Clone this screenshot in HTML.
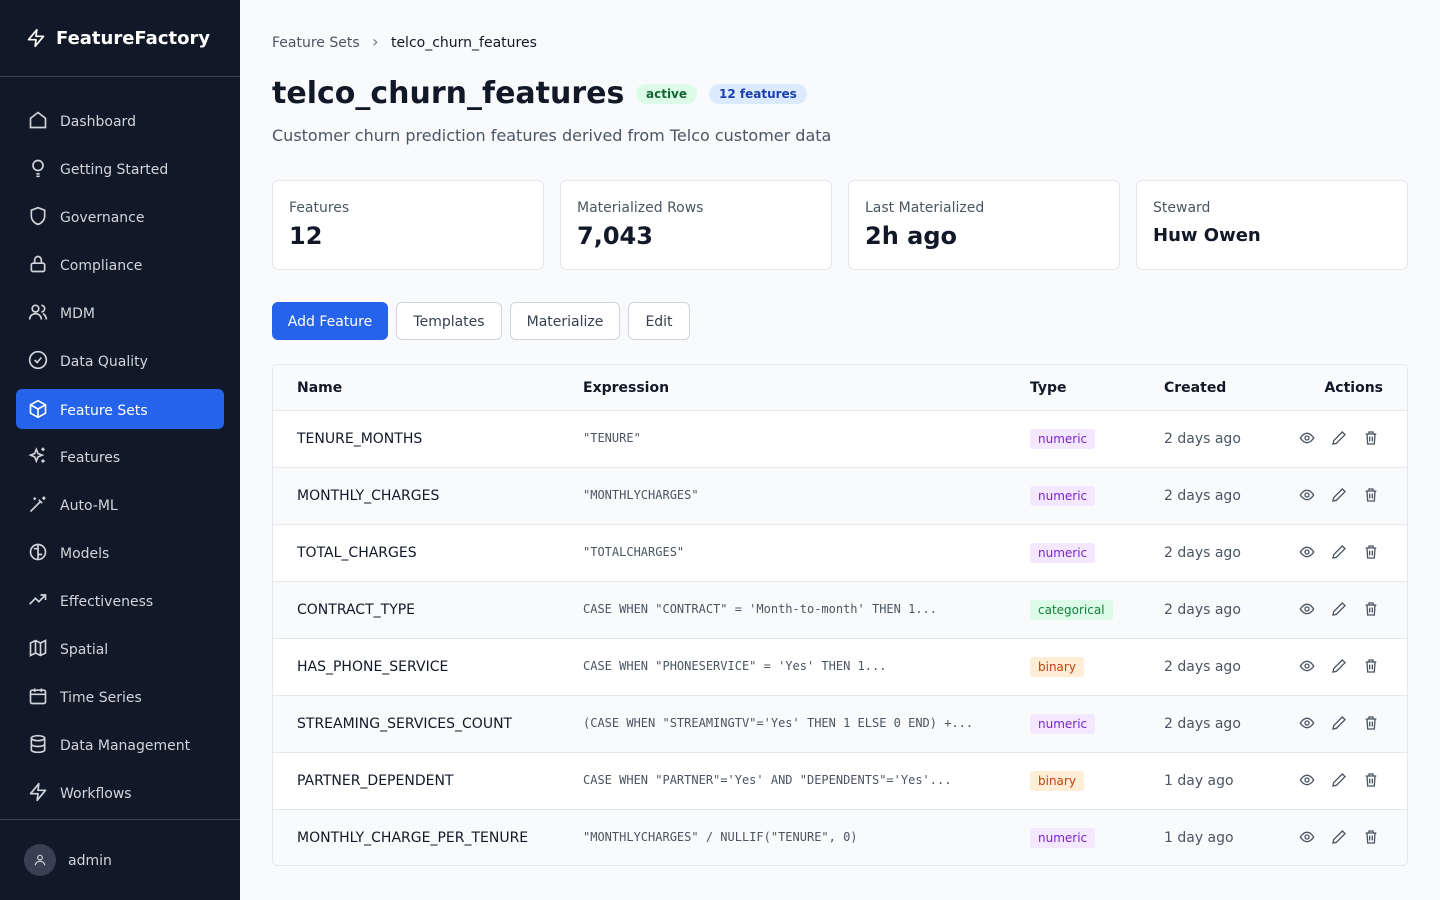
<!DOCTYPE html>
<html><head><meta charset="utf-8"><style>
*{box-sizing:border-box;margin:0;padding:0}
body{width:1440px;height:900px;overflow:hidden;background:#f8fafc;font-family:"DejaVu Sans","Liberation Sans",sans-serif;color:#111827;position:relative}
.sb{position:absolute;left:0;top:0;width:240px;height:900px;background:#111827}
.logo{height:77px;border-bottom:1px solid #374151;display:flex;align-items:center;padding-left:26px;color:#fff;font-weight:bold;font-size:18px}
.logo svg{margin-right:10px}
.nav{position:absolute;left:16px;width:208px;height:40px;border-radius:6px;display:flex;align-items:center;padding-left:12px;padding-top:3px;color:#d1d5db;font-size:14px}
.nav svg{margin-right:12px;margin-top:-3px}
.nav.act{background:#2563eb;color:#fff}
.foot{position:absolute;left:0;top:819px;width:240px;border-top:1px solid #374151;height:81px}
.av{position:absolute;left:24px;top:24px;width:32px;height:32px;border-radius:50%;background:#374151;display:flex;align-items:center;justify-content:center}
.card{position:absolute;top:180px;width:272px;height:90px;background:#fff;border:1px solid #e5e7eb;border-radius:6px;padding:19px 16px}
.card .l{font-size:14px;color:#4b5563}
.card .v{font-size:24px;font-weight:bold;margin-top:6px}
.btn{position:absolute;top:302px;height:38px;border:1px solid #d1d5db;background:#fff;border-radius:6px;font-size:14px;display:flex;align-items:center;justify-content:center;color:#374151;padding-top:2px}
.tbl{position:absolute;left:272px;top:364px;width:1136px;height:502px;background:#fff;border:1px solid #e5e7eb;border-radius:6px;overflow:hidden}
.row{position:absolute;left:0;width:1136px;height:57px;border-top:1px solid #e5e7eb;font-size:14px}
.row>*{position:absolute;top:50%;transform:translateY(-50%)}
.alt{background:#f9fafb}
.mono{font-family:"DejaVu Sans Mono","Liberation Mono",monospace;font-size:12px;color:#4b5563;margin-top:-1px}
.b{font-size:12px;padding:3px 8px;border-radius:3px}
.num{background:#f3e8ff;color:#7e22ce}.cat{background:#dcfce7;color:#15803d}.bin{background:#ffedd5;color:#c2410c}
.cr{color:#4b5563}
</style></head><body>
<div class="sb">
<div class="logo"><svg width="20" height="22" viewBox="0 0 24 24" fill="none" stroke="#fff" stroke-width="2" stroke-linejoin="round"><path d="M13 2L3 14h9l-1 8 10-12h-9l1-8z"/></svg>FeatureFactory</div>
<div class="nav" style="top:100px"><svg width="20" height="20" viewBox="0 0 24 24" fill="none" stroke="#d1d5db" stroke-width="2"><path d="M3 10l9-7 9 7v11H3z"/></svg>Dashboard</div>
<div class="nav" style="top:148px"><svg width="20" height="20" viewBox="0 0 24 24" fill="none" stroke="#d1d5db" stroke-width="2"><circle cx="12" cy="9" r="6"/><path d="M10 19h4M10 22h4"/></svg>Getting Started</div>
<div class="nav" style="top:196px"><svg width="20" height="20" viewBox="0 0 24 24" fill="none" stroke="#d1d5db" stroke-width="2"><path d="M12 2l8 3v7c0 5-4 9-8 10-4-1-8-5-8-10V5z"/></svg>Governance</div>
<div class="nav" style="top:244px"><svg width="20" height="20" viewBox="0 0 24 24" fill="none" stroke="#d1d5db" stroke-width="2"><rect x="4" y="11" width="16" height="10" rx="2"/><path d="M8 11V7a4 4 0 018 0v4"/></svg>Compliance</div>
<div class="nav" style="top:292px"><svg width="20" height="20" viewBox="0 0 24 24" fill="none" stroke="#d1d5db" stroke-width="2"><circle cx="9" cy="8" r="4"/><path d="M2 21c0-4 3-7 7-7s7 3 7 7M16 4a4 4 0 010 8M22 21c0-3-2-6-4-7"/></svg>MDM</div>
<div class="nav" style="top:340px"><svg width="20" height="20" viewBox="0 0 24 24" fill="none" stroke="#d1d5db" stroke-width="2"><circle cx="12" cy="12" r="10"/><path d="M8 12l3 3 5-6"/></svg>Data Quality</div>
<div class="nav act" style="top:389px"><svg width="20" height="20" viewBox="0 0 24 24" fill="none" stroke="#fff" stroke-width="2"><path d="M12 2l9 5v10l-9 5-9-5V7z M3 7l9 5 9-5M12 12v10"/></svg>Feature Sets</div>
<div class="nav" style="top:436px"><svg width="20" height="20" viewBox="0 0 24 24" fill="none" stroke="#d1d5db" stroke-width="2"><path d="M10 4l2 5 5 2-5 2-2 5-2-5-5-2 5-2zM18 2v4M16 4h4M18 16v4M16 18h4"/></svg>Features</div>
<div class="nav" style="top:484px"><svg width="20" height="20" viewBox="0 0 24 24" fill="none" stroke="#d1d5db" stroke-width="2"><path d="M3 21L15 9M13 7l4 4M19 3v4M17 5h4M8 4v3M6.5 5.5h3"/></svg>Auto-ML</div>
<div class="nav" style="top:532px"><svg width="20" height="20" viewBox="0 0 24 24" fill="none" stroke="#d1d5db" stroke-width="2"><circle cx="12" cy="12" r="9"/><path d="M12 3v18M7 8h5M12 15h5"/></svg>Models</div>
<div class="nav" style="top:580px"><svg width="20" height="20" viewBox="0 0 24 24" fill="none" stroke="#d1d5db" stroke-width="2"><path d="M2 17l7-7 4 4 8-8M15 6h6v6"/></svg>Effectiveness</div>
<div class="nav" style="top:628px"><svg width="20" height="20" viewBox="0 0 24 24" fill="none" stroke="#d1d5db" stroke-width="2"><path d="M3 6l6-3 6 3 6-3v15l-6 3-6-3-6 3zM9 3v15M15 6v15"/></svg>Spatial</div>
<div class="nav" style="top:676px"><svg width="20" height="20" viewBox="0 0 24 24" fill="none" stroke="#d1d5db" stroke-width="2"><rect x="3" y="5" width="18" height="16" rx="2"/><path d="M3 10h18M8 3v4M16 3v4"/></svg>Time Series</div>
<div class="nav" style="top:724px"><svg width="20" height="20" viewBox="0 0 24 24" fill="none" stroke="#d1d5db" stroke-width="2"><ellipse cx="12" cy="5" rx="8" ry="3"/><path d="M4 5v14c0 2 4 3 8 3s8-1 8-3V5M4 12c0 2 4 3 8 3s8-1 8-3"/></svg>Data Management</div>
<div class="nav" style="top:772px"><svg width="20" height="20" viewBox="0 0 24 24" fill="none" stroke="#d1d5db" stroke-width="2" stroke-linejoin="round"><path d="M13 2L3 14h9l-1 8 10-12h-9l1-8z"/></svg>Workflows</div>
<div class="foot"><div class="av"><svg width="14" height="14" viewBox="0 0 24 24" fill="none" stroke="#d1d5db" stroke-width="2"><circle cx="12" cy="8" r="4"/><path d="M4 21c0-4 4-7 8-7s8 3 8 7"/></svg></div><div style="position:absolute;left:68px;top:33px;color:#d1d5db;font-size:14px">admin</div></div>
</div>

<div style="position:absolute;left:272px;top:32px;font-size:14px;color:#4b5563">Feature Sets <span style="margin:0 8px;color:#6b7280;font-size:16px">›</span> <span style="color:#111827">telco_churn_features</span></div>
<div style="position:absolute;left:272px;top:76px;font-size:30px;font-weight:bold">telco_churn_features</div>
<div style="position:absolute;left:636px;top:84px;background:#dcfce7;color:#166534;font-size:12px;font-weight:bold;padding:3px 10px;border-radius:12px">active</div>
<div style="position:absolute;left:709px;top:84px;background:#dbeafe;color:#1e40af;font-size:12px;font-weight:bold;padding:3px 10px;border-radius:12px">12 features</div>
<div style="position:absolute;left:272px;top:126px;font-size:16px;color:#4b5563">Customer churn prediction features derived from Telco customer data</div>

<div class="card" style="left:272px"><div class="l">Features</div><div class="v">12</div></div>
<div class="card" style="left:560px"><div class="l">Materialized Rows</div><div class="v">7,043</div></div>
<div class="card" style="left:848px"><div class="l">Last Materialized</div><div class="v">2h ago</div></div>
<div class="card" style="left:1136px"><div class="l">Steward</div><div class="v" style="font-size:18px;margin-top:9px">Huw Owen</div></div>

<div class="btn" style="left:272px;width:116px;background:#2563eb;border-color:#2563eb;color:#fff">Add Feature</div>
<div class="btn" style="left:396px;width:106px">Templates</div>
<div class="btn" style="left:510px;width:110px">Materialize</div>
<div class="btn" style="left:628px;width:62px">Edit</div>

<div class="tbl">
<div class="row alt" style="top:0;height:45px;border-top:none;font-weight:bold">
<span style="left:24px">Name</span><span style="left:310px">Expression</span><span style="left:757px">Type</span><span style="left:891px">Created</span><span style="right:26px">Actions</span></div>
<div id="rows"></div>
</div>
<script>
const d=[["TENURE_MONTHS",'"TENURE"',"num","numeric","2 days ago"],
["MONTHLY_CHARGES",'"MONTHLYCHARGES"',"num","numeric","2 days ago"],
["TOTAL_CHARGES",'"TOTALCHARGES"',"num","numeric","2 days ago"],
["CONTRACT_TYPE",`CASE WHEN "CONTRACT" = 'Month-to-month' THEN 1...`,"cat","categorical","2 days ago"],
["HAS_PHONE_SERVICE",`CASE WHEN "PHONESERVICE" = 'Yes' THEN 1...`,"bin","binary","2 days ago"],
["STREAMING_SERVICES_COUNT",`(CASE WHEN "STREAMINGTV"='Yes' THEN 1 ELSE 0 END) +...`,"num","numeric","2 days ago"],
["PARTNER_DEPENDENT",`CASE WHEN "PARTNER"='Yes' AND "DEPENDENTS"='Yes'...`,"bin","binary","1 day ago"],
["MONTHLY_CHARGE_PER_TENURE",`"MONTHLYCHARGES" / NULLIF("TENURE", 0)`,"num","numeric","1 day ago"]];
const ic=`<svg width="16" height="16" viewBox="0 0 24 24" fill="none" stroke="#4b5563" stroke-width="2"><path d="M2 12s4-7 10-7 10 7 10 7-4 7-10 7S2 12 2 12z"/><circle cx="12" cy="12" r="3"/></svg>`;
const pe=`<svg width="16" height="16" viewBox="0 0 24 24" fill="none" stroke="#4b5563" stroke-width="2"><path d="M17 3l4 4L8 20l-5 1 1-5z"/></svg>`;
const tr=`<svg width="16" height="16" viewBox="0 0 24 24" fill="none" stroke="#4b5563" stroke-width="2"><path d="M4 6h16M9 6V3h6v3M6 6l1 15h10l1-15M10 10v7M14 10v7"/></svg>`;
const esc=s=>s.replace(/&/g,'&amp;').replace(/</g,'&lt;');
let h='';d.forEach((r,i)=>{h+=`<div class="row${i%2?' alt':''}" style="top:${45+i*57}px"><span style="left:24px">${r[0]}</span><span class="mono" style="left:310px">${esc(r[1])}</span><span class="b ${r[2]}" style="left:757px">${r[3]}</span><span class="cr" style="left:891px">${r[4]}</span><span style="left:1026px;display:flex;gap:16px;margin-top:-1px">${ic}${pe}${tr}</span></div>`});
document.getElementById('rows').outerHTML=h;
</script>
</body></html>
